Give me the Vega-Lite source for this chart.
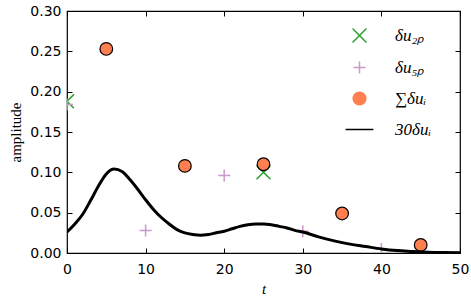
{
  "$schema": "https://vega.github.io/schema/vega-lite/v6.json",
  "autosize": {"type": "none"},
  "width": 393,
  "height": 242,
  "padding": {"left": 67, "top": 11, "right": 11, "bottom": 44},
  "background": "white",
  "config": {
    "view": {"stroke": "black", "strokeWidth": 1.2},
    "axis": {"grid": false, "domain": false, "labelFlush": false, "tickColor": "black", "tickWidth": 1, "tickSize": -5, "labelFont": "DejaVu Sans", "labelFontSize": 14, "labelColor": "black", "titleColor": "black", "titleFont": "Liberation Serif", "titleFontSize": 15, "titleFontWeight": "normal"}
  },
  "data": {"values": [
    {"t": 0, "value": 0.188, "series": "δu₂ₚ"},
    {"t": 25, "value": 0.100, "series": "δu₂ₚ"},
    {"t": 0, "value": 0.184, "series": "δu₅ₚ"},
    {"t": 10, "value": 0.028, "series": "δu₅ₚ"},
    {"t": 20, "value": 0.096, "series": "δu₅ₚ"},
    {"t": 30, "value": 0.027, "series": "δu₅ₚ"},
    {"t": 40, "value": 0.005, "series": "δu₅ₚ"},
    {"t": 5, "value": 0.253, "series": "∑δuᵢ"},
    {"t": 15, "value": 0.108, "series": "∑δuᵢ"},
    {"t": 25, "value": 0.110, "series": "∑δuᵢ"},
    {"t": 35, "value": 0.049, "series": "∑δuᵢ"},
    {"t": 45, "value": 0.010, "series": "∑δuᵢ"},
    {"t": 0, "value": 0.026, "series": "30δuᵢ"},
    {"t": 1, "value": 0.036, "series": "30δuᵢ"},
    {"t": 2, "value": 0.048, "series": "30δuᵢ"},
    {"t": 3, "value": 0.065, "series": "30δuᵢ"},
    {"t": 4, "value": 0.083, "series": "30δuᵢ"},
    {"t": 5, "value": 0.098, "series": "30δuᵢ"},
    {"t": 6, "value": 0.104, "series": "30δuᵢ"},
    {"t": 7, "value": 0.101, "series": "30δuᵢ"},
    {"t": 8, "value": 0.091, "series": "30δuᵢ"},
    {"t": 9, "value": 0.079, "series": "30δuᵢ"},
    {"t": 10, "value": 0.066, "series": "30δuᵢ"},
    {"t": 11, "value": 0.054, "series": "30δuᵢ"},
    {"t": 12, "value": 0.044, "series": "30δuᵢ"},
    {"t": 13, "value": 0.036, "series": "30δuᵢ"},
    {"t": 14, "value": 0.029, "series": "30δuᵢ"},
    {"t": 15, "value": 0.025, "series": "30δuᵢ"},
    {"t": 16, "value": 0.023, "series": "30δuᵢ"},
    {"t": 17, "value": 0.022, "series": "30δuᵢ"},
    {"t": 18, "value": 0.023, "series": "30δuᵢ"},
    {"t": 19, "value": 0.025, "series": "30δuᵢ"},
    {"t": 20, "value": 0.027, "series": "30δuᵢ"},
    {"t": 21, "value": 0.030, "series": "30δuᵢ"},
    {"t": 22, "value": 0.033, "series": "30δuᵢ"},
    {"t": 23, "value": 0.035, "series": "30δuᵢ"},
    {"t": 24, "value": 0.036, "series": "30δuᵢ"},
    {"t": 25, "value": 0.036, "series": "30δuᵢ"},
    {"t": 26, "value": 0.035, "series": "30δuᵢ"},
    {"t": 27, "value": 0.033, "series": "30δuᵢ"},
    {"t": 28, "value": 0.031, "series": "30δuᵢ"},
    {"t": 29, "value": 0.028, "series": "30δuᵢ"},
    {"t": 30, "value": 0.026, "series": "30δuᵢ"},
    {"t": 32, "value": 0.020, "series": "30δuᵢ"},
    {"t": 34, "value": 0.015, "series": "30δuᵢ"},
    {"t": 36, "value": 0.011, "series": "30δuᵢ"},
    {"t": 38, "value": 0.008, "series": "30δuᵢ"},
    {"t": 40, "value": 0.005, "series": "30δuᵢ"},
    {"t": 42, "value": 0.003, "series": "30δuᵢ"},
    {"t": 44, "value": 0.002, "series": "30δuᵢ"},
    {"t": 46, "value": 0.001, "series": "30δuᵢ"},
    {"t": 48, "value": 0.0005, "series": "30δuᵢ"},
    {"t": 50, "value": 0.0002, "series": "30δuᵢ"}
  ]},
  "resolve": {"axis": {"x": "independent", "y": "independent"}},
  "layer": [
    {
      "transform": [{"filter": "datum.series === 'δu₂ₚ' || datum.series === 'δu₅ₚ'"}],
      "mark": {"type": "point", "filled": false, "strokeWidth": 1.5, "size": 160, "clip": true, "opacity": 1},
      "encoding": {
        "x": {"field": "t", "type": "quantitative", "scale": {"domain": [0, 50], "nice": false, "zero": false},
          "axis": {"orient": "bottom", "values": [0, 10, 20, 30, 40, 50], "labelPadding": 14, "title": "t", "titleFontStyle": "italic", "titlePadding": 5}},
        "y": {"field": "value", "type": "quantitative", "scale": {"domain": [0, 0.3], "nice": false},
          "axis": {"orient": "left", "values": [0, 0.05, 0.1, 0.15, 0.2, 0.25, 0.3], "format": ".2f", "labelPadding": 11, "title": "amplitude", "titlePadding": 6}},
        "color": {"field": "series", "type": "nominal",
          "scale": {"domain": ["δu₂ₚ", "δu₅ₚ", "∑δuᵢ", "30δuᵢ"], "range": ["#2ca02c", "#cc99cc", "#ff7f50", "black"]},
          "legend": {"title": null, "orient": "none", "legendX": 284, "legendY": 16, "labelFont": "Liberation Serif", "labelFontStyle": "italic", "labelFontSize": 17, "labelColor": "black", "labelOffset": 27, "rowPadding": 12, "symbolSize": 160, "symbolStrokeWidth": 1.5,
            "encode": {"symbols": {"update": {
              "opacity": {"value": 1},
              "fill": {"condition": {"test": "datum.value === '∑δuᵢ'", "value": "#ff7f50"}, "value": "transparent"}
            }}}}},
        "shape": {"field": "series", "type": "nominal",
          "scale": {"domain": ["δu₂ₚ", "δu₅ₚ", "∑δuᵢ", "30δuᵢ"], "range": ["M-1.1,-1.1L1.1,1.1M1.1,-1.1L-1.1,1.1", "M-0.95,0L0.95,0M0,-0.95L0,0.95", "circle", "M-2.2,0L2.2,0"]}}
      }
    },
    {
      "transform": [{"filter": "datum.series === '∑δuᵢ'"}],
      "mark": {"type": "point", "filled": true, "stroke": "black", "strokeWidth": 1.2, "size": 160, "opacity": 1, "clip": true},
      "encoding": {
        "x": {"field": "t", "type": "quantitative", "axis": null},
        "y": {"field": "value", "type": "quantitative", "axis": null},
        "color": {"field": "series", "type": "nominal"},
        "shape": {"field": "series", "type": "nominal"}
      }
    },
    {
      "transform": [{"filter": "datum.series === '30δuᵢ'"}],
      "mark": {"type": "line", "strokeWidth": 3, "interpolate": "monotone", "clip": true},
      "encoding": {
        "x": {"field": "t", "type": "quantitative", "axis": null},
        "y": {"field": "value", "type": "quantitative", "axis": null},
        "color": {"field": "series", "type": "nominal"}
      }
    },
    {
      "transform": [{"filter": "datum.series === '30δuᵢ'"}],
      "mark": {"type": "point", "opacity": 0},
      "encoding": {
        "x": {"field": "t", "type": "quantitative", "axis": {"orient": "top", "values": [0, 10, 20, 30, 40, 50], "labels": false, "title": null}},
        "y": {"field": "value", "type": "quantitative", "axis": {"orient": "right", "values": [0, 0.05, 0.1, 0.15, 0.2, 0.25, 0.3], "labels": false, "title": null}}
      }
    }
  ]
}
